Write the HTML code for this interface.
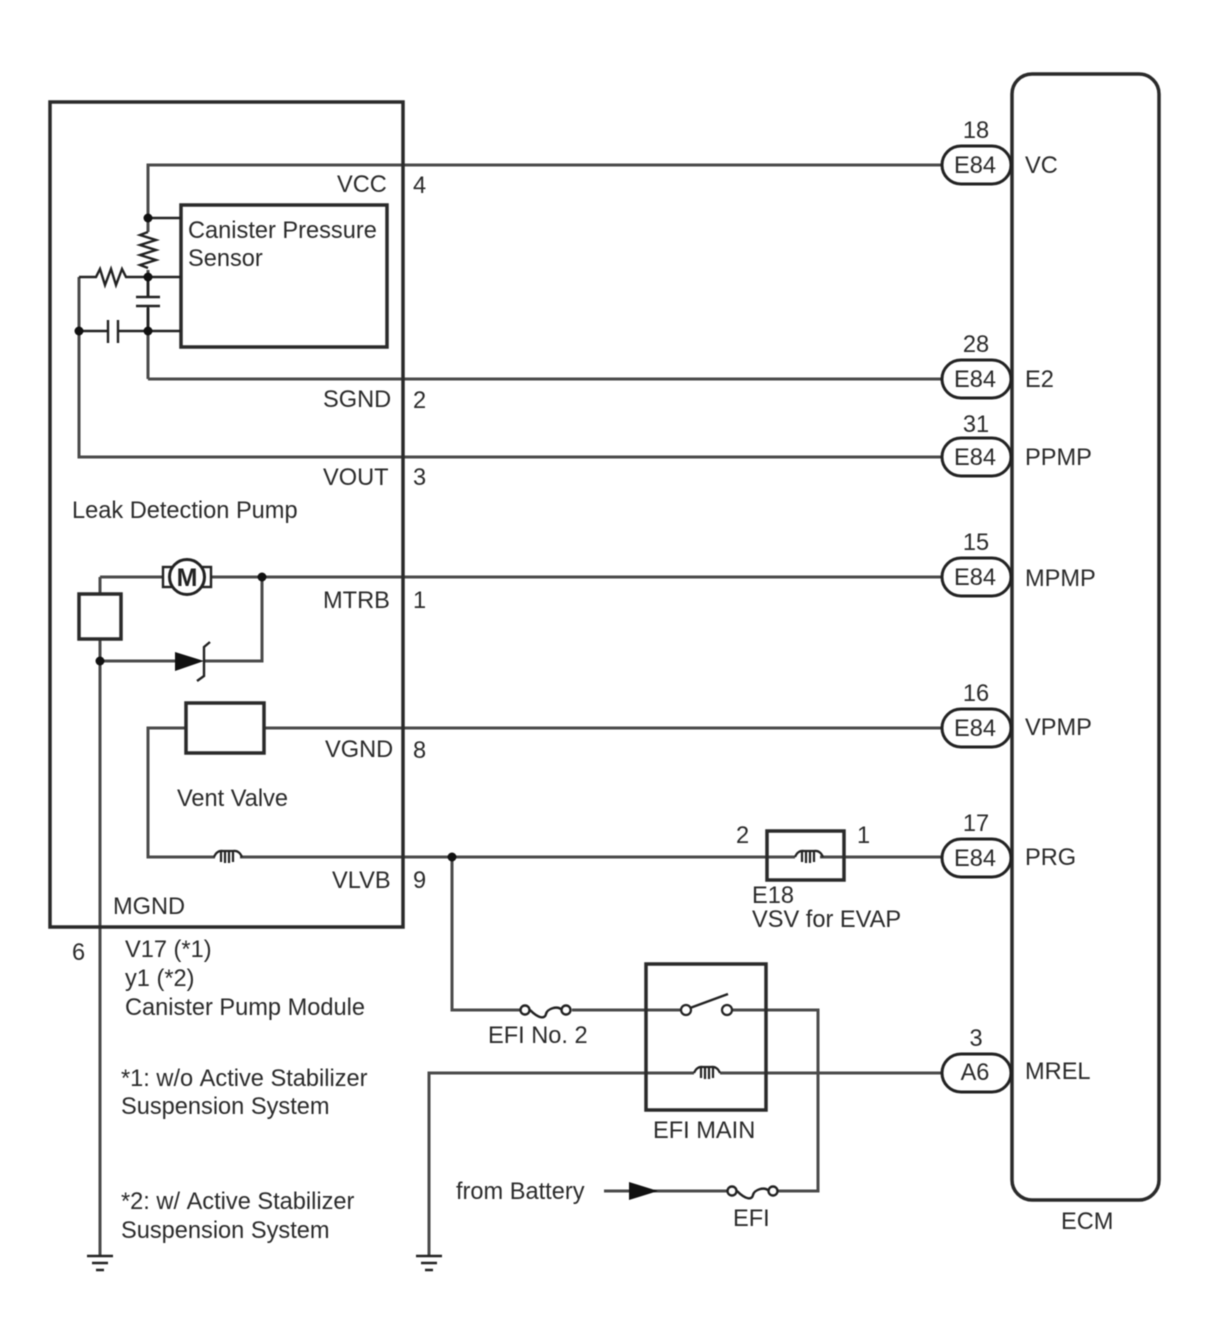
<!DOCTYPE html>
<html><head><meta charset="utf-8"><style>
html,body{margin:0;padding:0;background:#fff;width:1210px;height:1328px;overflow:hidden}
svg{display:block;filter:blur(0.4px)}
text{font-family:"Liberation Sans",sans-serif;font-size:23.6px;fill:#2a2a2a}
.w{fill:none;stroke:#4a4a4a;stroke-width:3}
.b{fill:none;stroke:#2a2a2a;stroke-width:3.5}
.t{fill:none;stroke:#222;stroke-width:2.4}
.d{fill:#111}
.m{text-anchor:middle}
.p{fill:#fff;stroke:#222;stroke-width:3}
.n{font-kerning:none}
</style></head><body>
<svg width="1210" height="1328" viewBox="0 0 1210 1328" xmlns="http://www.w3.org/2000/svg">
<!-- wires -->
<path class="w" d="M148 379V165H942M148 379H942M79 277V457H942M211 577H942M100 577H162M100 577V594M100 639V1255M100 661H175M205 661H262V577M264 728H942M186 728H148V857H215M240 857H795M820 857H942"/>
<path class="w" d="M452 857V1010H520M572 1010H680M733 1010H818V1191H778M728 1191H604M429 1255V1073H694M720 1073H942"/>
<!-- boxes -->
<rect class="b" x="50" y="102" width="353" height="825"/>
<rect class="b" x="181" y="205" width="206" height="142" fill="#fff"/>
<rect class="b" x="79" y="594" width="42" height="45" fill="#fff"/>
<rect class="b" x="186" y="703" width="78" height="50" fill="#fff"/>
<rect class="b" x="767" y="831" width="77" height="49"/>
<rect class="b" x="646" y="964" width="120" height="146"/>
<rect class="b" x="1012" y="74" width="147" height="1126" rx="20" fill="#fff"/>
<!-- sensor stubs -->
<path class="t" d="M148 218H181M148 277H181M148 331H181"/>
<!-- resistors -->
<path fill="#fff" stroke="none" d="M140 232h16v38h-16zM95 270h32v14H95z"/>
<path class="t" d="M148 232l-8 3 16 5-16 5 16 5-16 5 16 5-16 5 8 3"/>
<path class="t" d="M79 277H96l4-8 5 16 6-16 5 16 6-16 4 8H148"/>
<!-- capacitors -->
<path fill="#fff" stroke="none" d="M140 297h16v11h-16zM109 322h10v18h-10z"/>
<path class="t" d="M136 297H160M136 306H160M148 277V297M148 306V331"/>
<path class="t" d="M79 331H108M118 331H148M108 320V343M118 320V343"/>
<!-- junctions -->
<g class="d"><circle cx="148" cy="218" r="4.5"/><circle cx="148" cy="277" r="4.5"/><circle cx="148" cy="331" r="4.5"/><circle cx="79" cy="331" r="4.5"/><circle cx="262" cy="577" r="4.5"/><circle cx="100" cy="661" r="4.5"/><circle cx="452" cy="857" r="4.5"/></g>
<!-- motor -->
<rect x="163" y="567" width="48" height="20" fill="#fff" stroke="#222" stroke-width="2.4"/>
<circle cx="187" cy="577" r="17.5" fill="#fff" stroke="#222" stroke-width="3"/>
<text x="187" y="586" class="m" style="font-size:25px;font-weight:bold;fill:#222">M</text>
<!-- diode -->
<path class="d" d="M175 652L204 661L175 671Z"/>
<path class="t" d="M210 642L204 647V676L197 681" stroke-width="2"/>
<!-- coils -->
<g fill="none" stroke="#222" stroke-width="2.2">
<path d="M214 857q3-7 9-6h10q6-1 9 6M221 851v11M225 851v12M229 851v12M233 851v11"/>
<path d="M795 857q3-7 9-6h10q6-1 9 6M802 851v11M806 851v12M810 851v12M814 851v11"/>
<path d="M694 1073q3-7 9-6h8q6-1 9 6M701 1067v11M705 1067v12M709 1067v12M713 1067v11"/>
</g>
<!-- fuses -->
<g class="t" fill="#fff">
<path d="M530 1010c9 9 15 9 16 4s11-9 16-4" fill="none"/><circle cx="525" cy="1010" r="4.5" fill="#fff"/><circle cx="566" cy="1010" r="4.5" fill="#fff"/>
<path d="M737 1191c9 9 15 9 16 4s11-9 16-4" fill="none"/><circle cx="732" cy="1191" r="4.5" fill="#fff"/><circle cx="773" cy="1191" r="4.5" fill="#fff"/>
</g>
<!-- relay switch -->
<rect x="680" y="1000" width="52" height="18" fill="#fff"/>
<path class="t" d="M690 1008L728 994"/>
<circle cx="686" cy="1010" r="5" fill="#fff" stroke="#222" stroke-width="2.2"/>
<circle cx="727" cy="1010" r="5" fill="#fff" stroke="#222" stroke-width="2.2"/>
<!-- arrow -->
<path class="d" d="M629 1182L658 1191L629 1200Z"/>
<!-- grounds -->
<path class="t" d="M87 1256H113M92 1263H108M96 1270H104M416 1256H442M421 1263H437M425 1270H433"/>
<!-- connectors -->
<g class="p">
<rect x="942" y="146" width="69" height="38" rx="19"/>
<rect x="942" y="360" width="69" height="38" rx="19"/>
<rect x="942" y="438" width="69" height="38" rx="19"/>
<rect x="942" y="558" width="69" height="38" rx="19"/>
<rect x="942" y="709" width="69" height="38" rx="19"/>
<rect x="942" y="839" width="69" height="38" rx="19"/>
<rect x="942" y="1054" width="69" height="38" rx="19"/>
</g>
<g class="m">
<text x="975" y="173">E84</text><text x="975" y="387">E84</text><text x="975" y="465">E84</text><text x="975" y="585">E84</text><text x="975" y="736">E84</text><text x="975" y="866">E84</text><text x="975" y="1080">A6</text>
<text x="976" y="138">18</text><text x="976" y="352">28</text><text x="976" y="432">31</text><text x="976" y="550">15</text><text x="976" y="701">16</text><text x="976" y="831">17</text><text x="976" y="1046">3</text>
</g>
<text x="1025" y="173">VC</text><text x="1025" y="387">E2</text><text x="1025" y="465">PPMP</text><text x="1025" y="586">MPMP</text><text x="1025" y="735">VPMP</text><text x="1025" y="865">PRG</text><text x="1025" y="1079">MREL</text>
<text x="1061" y="1229">ECM</text>
<text x="188" y="238">Canister Pressure</text><text x="188" y="266">Sensor</text>
<text x="337" y="192">VCC</text><text x="323" y="407">SGND</text><text x="323" y="485">VOUT</text><text x="323" y="608">MTRB</text><text x="325" y="757">VGND</text><text x="332" y="888">VLVB</text><text x="113" y="914">MGND</text>
<text x="413" y="193">4</text><text x="413" y="408">2</text><text x="413" y="485">3</text><text x="413" y="608">1</text><text x="413" y="758">8</text><text x="413" y="888">9</text><text x="72" y="960">6</text>
<text x="72" y="518">Leak Detection Pump</text>
<text x="177" y="806">Vent Valve</text>
<text x="736" y="843">2</text><text x="857" y="843">1</text>
<text x="752" y="903">E18</text><text x="752" y="927">VSV for EVAP</text>
<text x="125" y="957">V17 (*1)</text><text x="125" y="986">y1 (*2)</text><text x="125" y="1015">Canister Pump Module</text>
<text x="121" y="1086" class="n">*1: w/o Active Stabilizer</text><text x="121" y="1114">Suspension System</text>
<text x="121" y="1209" class="n">*2: w/ Active Stabilizer</text><text x="121" y="1238">Suspension System</text>
<text x="488" y="1043">EFI No. 2</text>
<text x="653" y="1138">EFI MAIN</text>
<text x="456" y="1199">from Battery</text>
<text x="733" y="1226">EFI</text>
</svg>
</body></html>
